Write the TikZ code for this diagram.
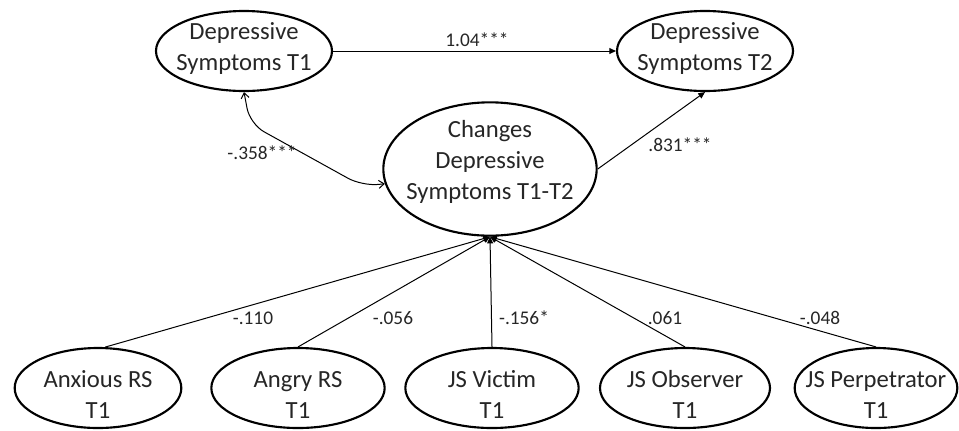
\documentclass[tikz,border=0pt]{standalone}
\usepackage{fontspec}
\setmainfont{Carlito}
\usetikzlibrary{shapes.geometric,arrows.meta}
\begin{document}
\begin{tikzpicture}[x=0.75pt,y=-0.75pt,
  latent/.style={ellipse,draw,line width=1.6pt,inner sep=0pt},
  ltext/.style={align=center,inner sep=0pt,font=\fontsize{18.5}{23.2}\selectfont,text=black!85},
  path/.style={line width=0.75pt,-{Triangle[length=5pt,width=4.5pt]}},
  cov/.style={line width=0.75pt,{Straight Barb[length=4pt,width=6pt]}-{Straight Barb[length=4pt,width=6pt]},rounded corners=12pt},
  coef/.style={font=\fontsize{14.5}{16}\selectfont,text=black!85,inner sep=0pt}]
\useasboundingbox (0,0) rectangle (959,430);
\fill[white] (0,0) rectangle (959,430);
\node[latent,minimum width=132pt,minimum height=60pt] (d1) at (244,51) {};
\node[latent,minimum width=132pt,minimum height=60pt] (d2) at (705,51) {};
\node[latent,minimum width=160pt,minimum height=100pt] (ch) at (490,169) {};
\node[latent,minimum width=125pt,minimum height=60pt] (anx) at (98,388) {};
\node[latent,minimum width=130pt,minimum height=60pt] (ang) at (298,388) {};
\node[latent,minimum width=130pt,minimum height=60pt] (vic) at (492,388) {};
\node[latent,minimum width=127.5pt,minimum height=60pt] (obs) at (685,388) {};
\node[latent,minimum width=122pt,minimum height=60pt] (per) at (876,388) {};

\node[ltext] (t1) at ([yshift=2pt]d1.center) {Depressive\\Symptoms T1};
\node[ltext] (t2) at ([yshift=2pt]d2.center) {Depressive\\Symptoms T2};
\node[ltext] (tc) at ([yshift=5pt]ch.center) {Changes\\Depressive\\Symptoms T1-T2};
\node[ltext] (ta) at ([yshift=-5pt]anx.center) {Anxious RS\\T1};
\node[ltext] (tg) at ([yshift=-5pt]ang.center) {Angry RS\\T1};
\node[ltext] (tv) at ([yshift=-5pt]vic.center) {JS Victim\\T1};
\node[ltext] (to) at ([yshift=-5pt]obs.center) {JS Observer\\T1};
\node[ltext] (tp) at ([yshift=-5pt]per.center) {JS Perpetrator\\T1};

\draw[path] (d1.east) -- (d2.west);
\draw[path] (ch.east) -- (d2.south);
\draw[cov] (d1.south) -- (250,124) -- (362,186) -- (ch.188);
\coordinate (chb) at (ch.south);
\draw[path] (anx.80) -- (chb);
\draw[path] (ang.north) -- (chb);
\draw[path] (vic.north) -- (chb);
\draw[path] (obs.north) -- (chb);
\draw[path] (per.north) -- (chb);

\node[coef] (l1) at (477,40) {1.04***};
\node[coef] (l2) at (680,145) {.831***};
\node[coef] (l3) at (262,153) {-.358***};
\node[coef] (l4) at (253,318) {-.110};
\node[coef] (l5) at (393,318) {-.056};
\node[coef] (l6) at (524,318) {-.156*};
\node[coef] (l7) at (665,318) {.061};
\node[coef] (l8) at (820,318) {-.048};
\end{tikzpicture}
\end{document}
